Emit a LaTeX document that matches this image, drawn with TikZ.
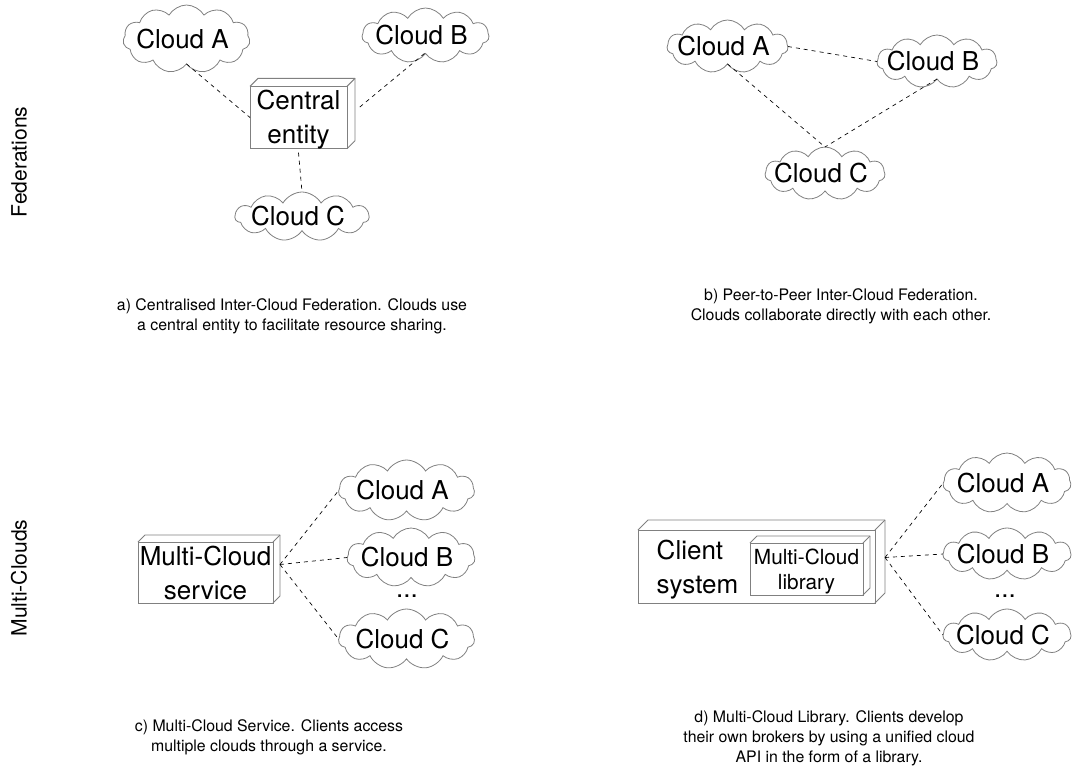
\documentclass[tikz,border=0pt]{standalone}
\usepackage{fontspec}
\setmainfont{TeX Gyre Heros}
\usetikzlibrary{shapes.symbols,calc}
\definecolor{outline}{gray}{0.5}
\newcommand{\sz}[2]{\fontsize{#1}{#2}\selectfont}
\newcommand{\lift}[1]{\rule{0pt}{#1pt}}
\tikzset{
  cloudnode/.style n args={3}{shape=cloud,cloud puffs=11,cloud puff arc=120,cloud ignores aspect,draw=outline,line width=0.6pt,
     minimum width=#1*0.75pt,minimum height=#2*0.75pt,inner sep=0pt,outer sep=0pt,
     label={[inner sep=0pt,xshift=-3pt,font=\sz{19.5}{25.5}]center:#3}},
  boxnode/.style n args={2}{draw=outline,line width=0.7pt,minimum width=#1*0.75pt,minimum height=#2*0.75pt,
     inner sep=0pt,outer sep=0pt,align=center,font=\sz{19.5}{25.5}},
  depthline/.style={draw=outline,line width=0.7pt,line join=round},
  link/.style={draw=black,line width=0.5pt,dash pattern=on 3pt off 3pt},
  caption/.style={align=center,font=\sz{11.9}{15}},
  sidelabel/.style={rotate=90,font=\sz{15.8}{18}},
  dotsnode/.style={font=\sz{19.5}{25}}
}
\newcommand{\boxdepth}[2]{%
  \draw[depthline] (#1.north west) -- ++(#2,-#2) -- ($(#1.north east)+(#2,-#2)$) -- ($(#1.south east)+(#2,-#2)$) -- (#1.south east);
  \draw[depthline] (#1.north east) -- ++(#2,-#2);
}
\begin{document}
\begin{tikzpicture}[x=0.75pt,y=-0.75pt]
\useasboundingbox (0,0) rectangle (1073,769);
% side labels
\node[sidelabel] (fed) at (19,162) {Federations};
\node[sidelabel] (mul) at (19,578) {Multi-Clouds};
% panel a
\node[cloudnode={127}{68}{Cloud A}] (aA) at (186.5,39) {};
\node[cloudnode={127}{55}{Cloud B}] (aB) at (425.5,35.5) {};
\node[cloudnode={134}{49}{Cloud C}] (aC) at (302,216.5) {};
\node[boxnode={97}{59}] (central) at (298.5,117.5) {\lift{17}Central\\entity};
\boxdepth{central}{8}
\draw[link] (aA.south) -- (central.west);
\draw[link] ($(aB.south)+(-1,0)$) -- ($(central.east)+(11,-9)$);
\draw[link] ($(central.south)+(0,4)$) -- (aC.north);
\node[caption] (capa) at (292,316) {a) Centralised Inter-Cloud Federation. Clouds use\\a central entity to facilitate resource sharing.};
% panel b
\node[cloudnode={121}{53}{Cloud A}] (bA) at (727.5,46.5) {};
\node[cloudnode={120}{53}{Cloud B}] (bB) at (937,61.5) {};
\node[cloudnode={120}{53}{Cloud C}] (bC) at (825,173.5) {};
\draw[link] (bA.east) -- (bB.west);
\draw[link] (bA.south) -- (bC.north);
\draw[link] (bB.south) -- (bC.north);
\node[caption] (capb) at (841,306) {b) Peer-to-Peer Inter-Cloud Federation.\\Clouds collaborate directly with each other.};
% panel c
\node[boxnode={135}{61}] (service) at (205.5,572.5) {\lift{15}Multi-Cloud\\service};
\boxdepth{service}{7}
\node[cloudnode={136}{61}{Cloud A}] (cA) at (406.5,490.5) {};
\node[cloudnode={128}{59}{Cloud B}] (cB) at (411,557.5) {};
\node[cloudnode={136}{60}{Cloud C}] (cC) at (406.5,639) {};
\node[dotsnode] (cdots) at (407,596) {...};
\coordinate (cjoin) at ($(service.east)+(7,-8)$);
\draw[link] (cjoin) -- (cA.west);
\draw[link] (cjoin) -- (cB.west);
\draw[link] (cjoin) -- (cC.west);
\node[caption] (capc) at (269,737) {c) Multi-Cloud Service. Clients access\\multiple clouds through a service.};
% panel d
\node[boxnode={237}{73}] (client) at (756.5,566.5) {};
\boxdepth{client}{10}
\node[align=left,inner sep=0pt,font=\sz{19.5}{25.5}] (clienttext) at (697.5,570) {Client\\system};
\node[boxnode={113}{52},font=\sz{15.6}{18.7}] (lib) at (806.5,569) {\lift{16}Multi-Cloud\\library};
\boxdepth{lib}{7}
\node[cloudnode={128}{60}{Cloud A}] (dA) at (1007,483) {};
\node[cloudnode={128}{52}{Cloud B}] (dB) at (1007,554) {};
\node[cloudnode={128}{52}{Cloud C}] (dC) at (1007,635) {};
\node[dotsnode] (ddots) at (1005,596) {...};
\coordinate (djoin) at ($(client.east)+(10,-9)$);
\draw[link] (djoin) -- (dA.west);
\draw[link] (djoin) -- (dB.west);
\draw[link] (djoin) -- (dC.west);
\node[caption] (capd) at (829,738) {d) Multi-Cloud Library. Clients develop\\their own brokers by using a unified cloud\\API in the form of a library.};
\end{tikzpicture}
\end{document}
